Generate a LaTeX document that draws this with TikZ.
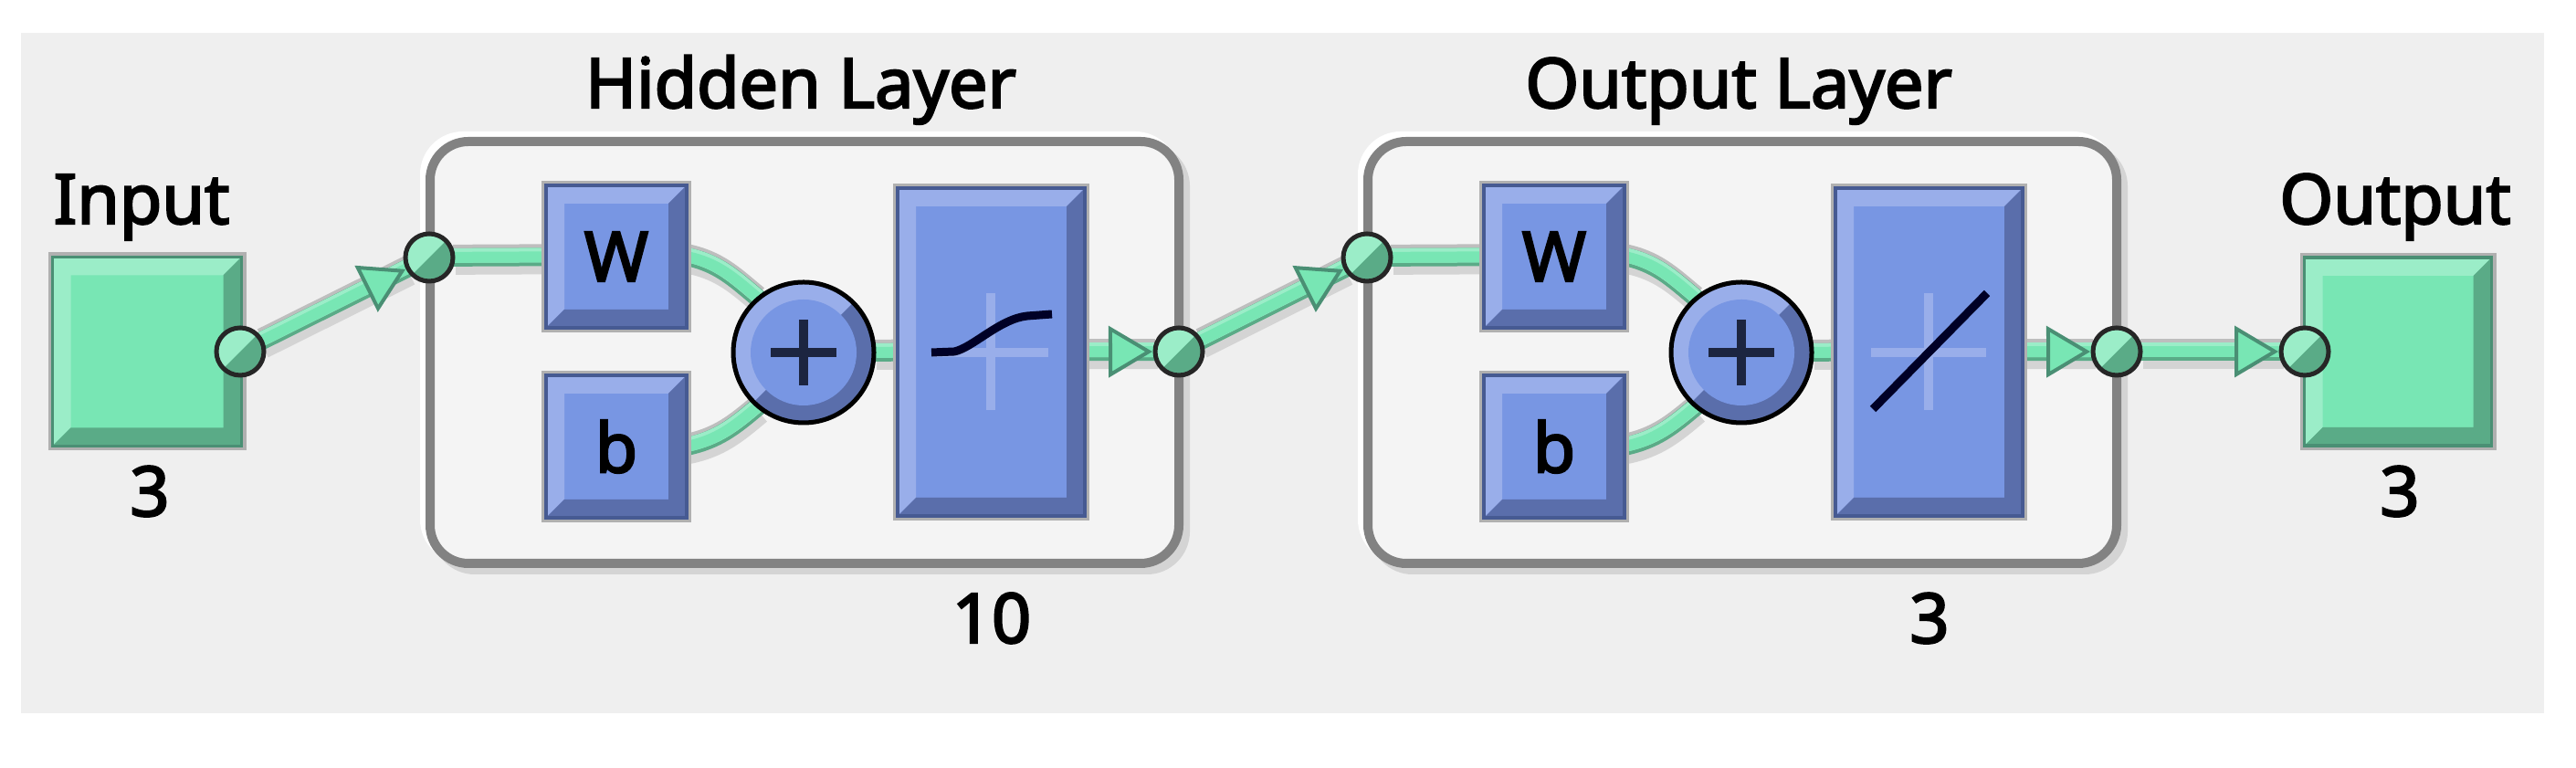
\documentclass[tikz,border=0pt]{standalone}
\usepackage{fontspec}
\setmainfont{Noto Sans}[AutoFakeBold=3]
\usetikzlibrary{arrows.meta,calc}

\definecolor{backcol}{HTML}{EFEFEF}
\definecolor{panelcol}{HTML}{F4F4F4}
\definecolor{panelline}{HTML}{828282}
\definecolor{panelshade}{HTML}{D4D4D4}
\definecolor{halocol}{HTML}{B0B0B0}
\definecolor{wirehalo}{HTML}{BEBEBE}
\definecolor{bluemid}{HTML}{7896E3}
\definecolor{bluelight}{HTML}{99AEEA}
\definecolor{bluedark}{HTML}{5A6EAB}
\definecolor{blueedge}{HTML}{465A92}
\definecolor{greenmid}{HTML}{78E6B4}
\definecolor{greenlight}{HTML}{9BEDC8}
\definecolor{greendark}{HTML}{5AAB87}
\definecolor{greenedge}{HTML}{4A8F74}
\definecolor{signcol}{HTML}{1C2540}

\pgfdeclarelayer{panels}
\pgfdeclarelayer{wires}
\pgfsetlayers{panels,wires,main}

\newcommand{\bevelfaces}[2]{
\coordinate (nw) at (path picture bounding box.north west);
\coordinate (ne) at (path picture bounding box.north east);
\coordinate (sw) at (path picture bounding box.south west);
\coordinate (se) at (path picture bounding box.south east);
\fill[#1] (nw) -- (ne) -- ($(ne)+(-0.2,-0.2)$) -- ($(nw)+(0.2,-0.2)$)
-- ($(sw)+(0.2,0.2)$) -- (sw) -- cycle;
\fill[#2] (se) -- (ne) -- ($(ne)+(-0.2,-0.2)$) -- ($(se)+(-0.2,0.2)$)
-- ($(sw)+(0.2,0.2)$) -- (sw) -- cycle;
}

\newcommand{\labelfont}{\fontsize{21.5}{24}\selectfont\bfseries}

\tikzset{
block/.style={rectangle,inner sep=0,outer sep=0,line width=0.035cm,
preaction={draw=halocol,line width=0.1cm},font=\labelfont},
bluebox/.style={block,fill=bluemid,draw=blueedge,
path picture={\bevelfaces{bluelight}{bluedark}}},
greenbox/.style={block,fill=greenmid,draw=greenedge,
path picture={\bevelfaces{greenlight}{greendark}}},
port/.style={circle,minimum size=0.52cm,inner sep=0,outer sep=0,
fill=greenmid,draw=black!85,line width=0.05cm,
path picture={
\fill[greendark] (path picture bounding box.south west)
-- (path picture bounding box.north east)
-- (path picture bounding box.south east) -- cycle;
\fill[greenlight] (path picture bounding box.south west)
-- (path picture bounding box.north east)
-- (path picture bounding box.north west) -- cycle;
}},
sumnode/.style={circle,minimum size=1.54cm,inner sep=0,outer sep=0,
fill=bluelight,draw=black,line width=0.05cm,
path picture={
\fill[bluedark] (path picture bounding box.south west)
-- (path picture bounding box.north east)
-- (path picture bounding box.south east) -- cycle;
\fill[bluemid] (path picture bounding box.center) circle (0.58);
\draw[signcol,line width=0.1cm] ($(path picture bounding box.center)+(-0.36,0)$)
-- ($(path picture bounding box.center)+(0.36,0)$);
\draw[signcol,line width=0.1cm] ($(path picture bounding box.center)+(0,-0.36)$)
-- ($(path picture bounding box.center)+(0,0.36)$);
}},
panel/.style={rectangle,rounded corners=0.42cm,inner sep=0,outer sep=0,
minimum width=8.2cm,minimum height=4.62cm,fill=panelcol,draw=panelline,line width=0.1cm,
preaction={draw=white,line width=0.1cm,transform canvas={shift={(-0.06,0.06)}}},
preaction={draw=panelshade,line width=0.1cm,transform canvas={shift={(0.07,-0.07)}}}},
wire/.style={draw=greenmid,line width=0.12cm,
preaction={draw=panelshade,line width=0.2cm,transform canvas={shift={(0.03,-0.09)}}},
preaction={draw=wirehalo,line width=0.2cm,transform canvas={yshift=0.04cm}},
preaction={draw=greendark,line width=0.2cm},
preaction={draw=greenlight,line width=0.16cm,transform canvas={yshift=0.02cm}}},
wiretip/.style={draw=greenmid,line width=0.01cm,shorten >=0.03cm,
-{Triangle[length=0.48cm,width=0.56cm,fill=greenmid,color=greenedge,line width=0.04cm]}},
iconcross/.style={bluelight,line width=0.1cm},
iconcurve/.style={black!85!blue,line width=0.09cm},
}

\begin{document}
\begin{tikzpicture}

\useasboundingbox (0,0) rectangle (28.21,8.41);

% Background
\begin{pgfonlayer}{panels}
\fill[backcol] (0.23,0.595) rectangle (27.86,8.05);
\end{pgfonlayer}

% Input and output squares
\node[greenbox,minimum size=2.07cm] (insquare) at (1.61,4.56) {};
\node[greenbox,minimum width=2.05cm,minimum height=2.06cm] (outsquare) at (26.26,4.56) {};
\node[font=\labelfont,anchor=base] (inlabel) at (1.55,5.96) {Input};
\node[font=\labelfont,anchor=base] (outlabel) at (26.23,5.96) {Output};
\node[font=\labelfont,anchor=base] (insize) at (1.64,2.76) {3};
\node[font=\labelfont,anchor=base] (outsize) at (26.28,2.76) {3};

% The two layers
\foreach \lay/\dx/\name/\size in {hid/0/Hidden Layer/10,out/10.27/Output Layer/3}
{
\begin{scope}[xshift=\dx cm]
\begin{pgfonlayer}{panels}
\node[panel] (\lay panel) at (8.81,4.55) {};
\end{pgfonlayer}
\node[bluebox,minimum width=1.54cm,minimum height=1.56cm] (\lay w) at (6.75,5.6) {W};
\node[bluebox,minimum width=1.54cm,minimum height=1.56cm] (\lay b) at (6.75,3.52) {b};
\node[sumnode] (\lay sum) at (8.8,4.55) {};
\node[bluebox,minimum width=2.05cm,minimum height=3.59cm] (\lay f) at (10.855,4.555) {};
\draw[iconcross] (10.85,3.92) -- (10.85,5.2);
\draw[iconcross] (10.22,4.55) -- (11.48,4.55);
\node[port] (\lay in) at (4.7,5.59) {};
\node[port] (\lay out) at (12.91,4.56) {};
\node[font=\labelfont,anchor=base] (\lay title) at (8.77,7.23) {\name};
\node[font=\labelfont,anchor=base] (\lay size) at (10.86,1.37) {\size};
\end{scope}
}

% Ports of the input and output squares
\node[port] (inport) at (2.63,4.56) {};
\node[port] (outport) at (25.24,4.56) {};

% Transfer functions
\draw[iconcurve] (10.2,4.55) -- (10.45,4.56) .. controls (10.65,4.6) and (10.95,4.92) .. (11.25,4.95) -- (11.52,4.97);
\draw[iconcurve] (20.51,3.93) -- (21.76,5.2);

% Wires
\begin{pgfonlayer}{wires}
\foreach \lay in {hid,out}
{
\draw[wire] (\lay in) -- (\lay w);
\draw[wire] (\lay w.east) to[out=-12,in=140] (\lay sum.130);
\draw[wire] (\lay b.east) to[out=12,in=220] (\lay sum.230);
\draw[wire] (\lay sum) -- (\lay f);
}
\foreach \a/\b in {inport/hidin,hidf/hidout,hidout/outin,outf/outout,outout/outport}
{
\draw[wire] (\a) -- (\b);
\draw[wiretip] (\a) -- (\b);
}
\end{pgfonlayer}

\end{tikzpicture}
\end{document}
